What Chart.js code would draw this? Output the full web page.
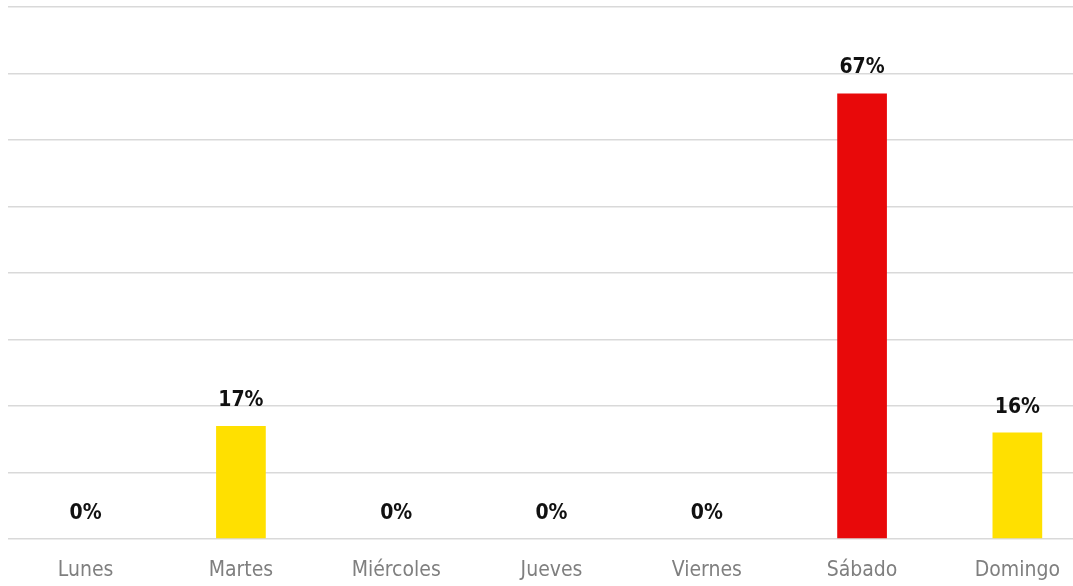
<!DOCTYPE html>
<html>
<head>
<meta charset="utf-8">
<script src="https://cdn.jsdelivr.net/npm/chart.js@4"></script>
<style>
  html, body { margin: 0; padding: 0; background: #fff; overflow: hidden; }
  #wrap { width: 1073px; height: 586px; overflow: hidden; }
</style>
</head>
<body>
<div id="wrap"><canvas id="myChart" width="1096" height="586"></canvas></div>
<script>
const days = ['Lunes', 'Martes', 'Miércoles', 'Jueves', 'Viernes', 'Sábado', 'Domingo'];
const percents = [0, 17, 0, 0, 0, 67, 16];
const barColors = ['#ffe000', '#ffe000', '#ffe000', '#ffe000', '#ffe000', '#e8090a', '#ffe000'];

const font = '"DejaVu Sans Condensed", "Liberation Sans Narrow", sans-serif';

// draws the "17%" labels above each bar
const valueLabels = {
  id: 'valueLabels',
  afterDatasetsDraw(chart) {
    const ctx = chart.ctx;
    const meta = chart.getDatasetMeta(0);
    ctx.save();
    ctx.font = 'bold 21px ' + font;
    ctx.fillStyle = '#111';
    ctx.textAlign = 'center';
    ctx.textBaseline = 'bottom';
    meta.data.forEach((bar, i) => {
      ctx.fillText(percents[i] + '%', bar.x, bar.y - 15);
    });
    ctx.restore();
  }
};

const ctx = document.getElementById('myChart');
const myChart = new Chart(ctx, {
  type: 'bar',
  data: {
    labels: days,
    datasets: [{
      data: percents,
      backgroundColor: barColors,
      categoryPercentage: 1,
      barPercentage: 0.32
    }]
  },
  options: {
    responsive: false,
    animation: false,
    layout: { padding: { top: 7, left: 8, right: 1, bottom: 3 } },
    scales: {
      x: {
        grid: { display: false },
        border: { display: false },
        ticks: {
          color: '#7f7f7f',
          font: { family: font, size: 21 },
          padding: 11
        },
        afterFit(scale) { scale.height = 44; }
      },
      y: {
        min: 0,
        max: 80,
        ticks: { display: false, stepSize: 10 },
        grid: { color: '#d9d9d9', lineWidth: 1.5, drawTicks: false },
        border: { display: false }
      }
    },
    plugins: {
      legend: { display: false },
      tooltip: { enabled: false }
    }
  },
  plugins: [valueLabels]
});
</script>
</body>
</html>
